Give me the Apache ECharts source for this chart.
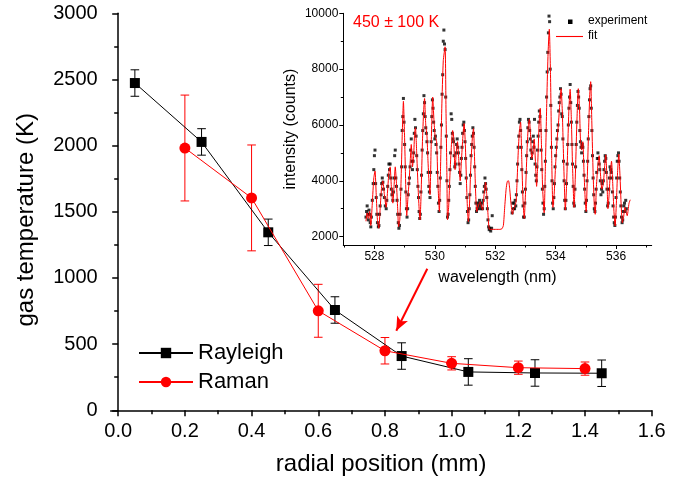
<!DOCTYPE html>
<html><head><meta charset="utf-8">
<script src="https://cdn.jsdelivr.net/npm/echarts@6/dist/echarts.min.js"></script>
<style>html,body{margin:0;padding:0;background:#fff}#c{width:681px;height:483px}</style>
</head><body><div id="c"></div>
<script>
// ---- main chart data ----
const rayleighX = [0.05, 0.25, 0.45, 0.65, 0.85, 1.05, 1.25, 1.45];
const rayleighY = [2473, 2028, 1345, 758, 410, 290, 282, 280];
const rayleighErr = [100, 100, 100, 100, 100, 100, 100, 100];
const ramanX = [0.2, 0.4, 0.6, 0.8, 1.0, 1.2, 1.4];
const ramanY = [1982, 1605, 752, 450, 355, 322, 315];
const ramanErr = [400, 400, 200, 100, 50, 50, 50];
const xTicks = [0, 0.2, 0.4, 0.6, 0.8, 1.0, 1.2, 1.4, 1.6];
const xMinorTicks = [0.1, 0.3, 0.5, 0.7, 0.9, 1.1, 1.3, 1.5];
const arrowFrom = [0.927, 1070];
const arrowTo = [0.834, 601];

// ---- inset data ----
const insetXTicks = [528, 530, 532, 534, 536];
const insetXMinor = [527, 529, 531, 533, 535, 537];
const insetYTicks = [2000, 4000, 6000, 8000, 10000];
const insetYMinor = [3000, 5000, 7000, 9000];
const insetLegend = ['experiment', 'fit'];
const fitPoints = [
[527.72,2550],[527.76,2850],[527.80,2650],[527.84,2900],[527.88,2400],[527.93,3200],[527.98,4100],[528.02,4350],[528.06,3500],[528.10,2600],
[528.145,2300],[528.19,3000],[528.24,3800],[528.28,4000],[528.33,3500],[528.39,3050],[528.44,3700],[528.48,4300],[528.52,4500],[528.56,3800],
[528.61,3200],[528.65,3800],[528.69,4500],[528.73,3900],[528.77,3000],[528.80,2360],[528.84,2600],[528.88,3900],[528.92,5600],[528.96,6850],
[529.00,5500],[529.04,3700],[529.07,2750],[529.11,3400],[529.15,4000],[529.19,4800],[529.22,5300],[529.26,4500],[529.30,4900],[529.33,5700],
[529.36,5900],[529.40,5000],[529.44,3900],[529.48,3000],[529.51,2600],[529.55,3700],[529.59,5400],[529.63,6500],[529.66,6950],[529.70,6000],
[529.74,5600],[529.77,4800],[529.81,3900],[529.84,3500],[529.88,5300],[529.93,7000],[529.97,6200],[530.01,5600],[530.06,5400],[530.10,4000],
[530.15,2900],[530.19,4500],[530.23,6600],[530.28,8300],[530.34,8800],[530.37,6500],[530.40,4200],[530.42,2600],[530.46,3100],[530.50,4200],
[530.55,5300],[530.59,5800],[530.62,5600],[530.67,4400],[530.71,5000],[530.75,5400],[530.79,4800],[530.84,4000],[530.88,4700],[530.93,5600],
[530.97,6050],[531.01,5300],[531.05,3900],[531.08,3000],[531.11,2540],[531.15,3200],[531.19,4500],[531.24,5500],[531.28,5870],[531.31,5000],
[531.35,3600],[531.39,2900],[531.44,3100],[531.50,3250],[531.54,3100],[531.58,2950],[531.63,3500],[531.68,3950],[531.72,3500],[531.76,2800],
[531.80,2270],[531.85,2260],[531.95,2260],[532.05,2260],[532.15,2260],[532.22,2280],[532.27,2400],[532.31,3000],[532.36,3700],[532.40,3980],
[532.44,4000],[532.48,3700],[532.52,3200],[532.57,2800],[532.61,3000],[532.65,3100],[532.69,3250],[532.72,3900],[532.76,5000],[532.80,5800],
[532.84,6100],[532.88,4700],[532.92,3300],[532.96,2650],[533.00,3500],[533.05,5000],[533.09,5900],[533.13,6200],[533.17,5600],[533.21,4800],
[533.25,5000],[533.29,5500],[533.33,4700],[533.37,3800],[533.41,4700],[533.45,6000],[533.49,6600],[533.53,5300],[533.57,3700],[533.62,2850],
[533.66,4500],[533.71,7000],[533.75,8600],[533.79,9430],[533.83,7800],[533.87,4800],[533.91,3050],[533.95,3500],[534.00,4600],[534.05,5500],
[534.09,6000],[534.14,6800],[534.18,7300],[534.22,6500],[534.25,5300],[534.29,3800],[534.32,2950],[534.36,3800],[534.40,5200],[534.44,6600],
[534.48,7280],[534.52,6200],[534.56,4500],[534.61,3050],[534.65,4100],[534.70,6000],[534.75,7300],[534.79,6600],[534.82,5500],[534.86,5100],
[534.90,5400],[534.94,4300],[534.98,3300],[535.01,2900],[535.05,4200],[535.09,5800],[535.13,7100],[535.16,7550],[535.20,6000],[535.24,4300],
[535.28,3100],[535.31,2800],[535.35,3800],[535.40,4600],[535.44,4900],[535.48,4300],[535.53,3700],[535.58,3900],[535.62,4500],[535.66,4930],
[535.70,4000],[535.73,3000],[535.77,3500],[535.81,4300],[535.85,4700],[535.89,3900],[535.93,2900],[535.97,2380],[536.01,3200],[536.05,4300],
[536.09,4950],[536.13,4200],[536.17,3100],[536.21,2500],[536.25,2700],[536.29,3050],[536.33,2900],[536.37,2750],[536.40,2950],[536.43,3200],[536.47,3320]
];
const expPoints = [
[527.72,2700],[527.74,2900],[527.76,3100],[527.78,2800],[527.80,2600],[527.82,2950],[527.84,2800],[527.86,2500],[527.88,2350],[527.90,2700],
[527.93,3300],[527.96,3900],[527.98,4400],[528.00,4900],[528.02,5100],[528.04,3900],[528.06,3400],[528.08,2800],[528.10,2500],[528.13,2350],
[528.15,2400],[528.17,2800],[528.19,3100],[528.22,3500],[528.24,3900],[528.26,4100],[528.28,3950],[528.30,3700],[528.33,3400],[528.36,3100],
[528.39,3000],[528.41,3300],[528.44,3800],[528.46,4200],[528.48,4600],[528.50,4400],[528.52,4600],[528.54,4100],[528.56,3700],[528.58,3500],
[528.61,3300],[528.63,3600],[528.65,4100],[528.67,4900],[528.69,5100],[528.71,4100],[528.73,3800],[528.75,3300],[528.77,2800],[528.79,2500],
[528.81,2300],[528.83,2400],[528.85,2800],[528.88,3700],[528.90,4500],[528.92,5800],[528.94,6300],[528.96,6950],[528.98,6100],[529.00,5300],
[529.02,4500],[529.04,3600],[529.06,3000],[529.08,2700],[529.10,3000],[529.12,3500],[529.14,3900],[529.16,4100],[529.18,4500],[529.20,5100],
[529.22,5500],[529.24,4700],[529.26,4400],[529.28,4700],[529.30,5000],[529.32,5700],[529.34,6200],[529.36,5900],[529.38,5600],[529.40,4900],
[529.42,4400],[529.44,3800],[529.46,3400],[529.48,2900],[529.50,2650],[529.52,2800],[529.54,3600],[529.56,4200],[529.58,5100],[529.60,5800],
[529.62,6400],[529.64,7050],[529.66,6800],[529.68,6300],[529.70,5900],[529.72,5700],[529.74,5400],[529.76,5000],[529.78,4300],[529.80,3800],
[529.82,3600],[529.84,3400],[529.86,4300],[529.88,5400],[529.90,6300],[529.92,6900],[529.94,6600],[529.96,6100],[529.98,5800],[530.00,5500],
[530.02,5600],[530.04,5300],[530.06,5000],[530.08,4300],[530.10,3800],[530.12,3200],[530.14,2900],[530.16,3300],[530.18,4100],[530.20,5200],
[530.22,6000],[530.24,7100],[530.26,7800],[530.28,9000],[530.30,9400],[530.32,8900],[530.34,8700],[530.36,7000],[530.38,5600],[530.40,4000],
[530.42,2700],[530.44,2800],[530.46,3300],[530.48,3800],[530.50,4400],[530.52,5000],[530.54,6400],[530.56,6200],[530.58,5700],[530.60,5500],
[530.62,5400],[530.64,4900],[530.66,4500],[530.68,4600],[530.70,5000],[530.72,5300],[530.74,5500],[530.76,5200],[530.78,5000],[530.80,4600],
[530.82,4300],[530.84,3900],[530.86,4200],[530.88,4800],[530.90,5200],[530.92,5700],[530.94,6000],[530.96,6100],[530.98,5800],[531.00,5400],
[531.02,4800],[531.04,4100],[531.06,3400],[531.08,2900],[531.10,2500],[531.12,2600],[531.14,3000],[531.16,3500],[531.18,4200],[531.20,4900],
[531.22,5300],[531.24,5600],[531.26,5900],[531.28,5700],[531.30,5200],[531.32,4500],[531.34,3800],[531.36,3200],[531.38,2900],[531.40,3000],
[531.42,3200],[531.44,3100],[531.46,3000],[531.48,3300],[531.50,3200],[531.52,3100],[531.54,3000],[531.56,3200],[531.58,3000],[531.60,3300],
[531.62,3600],[531.64,3800],[531.66,4100],[531.68,3900],[531.70,3700],[531.72,3400],[531.74,3000],[531.76,2600],[531.78,2350],[531.80,2250],
[531.82,2300],[531.85,2200],[531.88,2300],[531.90,2750],
[532.56,2850],[532.58,3200],[532.60,3000],[532.62,3200],[532.64,3000],[532.66,3300],[532.68,3100],[532.70,3500],[532.72,4000],[532.74,4600],
[532.76,5200],[532.78,5600],[532.80,6100],[532.82,6200],[532.84,5800],[532.86,5200],[532.88,4400],[532.90,3600],[532.92,3100],[532.94,2700],
[532.96,2700],[532.98,3200],[533.00,3700],[533.02,4300],[533.04,4900],[533.06,5400],[533.08,5900],[533.10,6200],[533.12,6100],[533.14,5800],
[533.16,5500],[533.18,5100],[533.20,4800],[533.22,5000],[533.24,5400],[533.26,5600],[533.28,5200],[533.30,6200],[533.32,4600],[533.34,4200],
[533.36,4000],[533.38,4500],[533.40,5100],[533.42,5600],[533.44,6100],[533.46,6500],[533.48,6300],[533.50,5800],[533.52,5100],[533.54,4400],
[533.56,3700],[533.58,3200],[533.60,2800],[533.62,3000],[533.64,3800],[533.66,4700],[533.68,5800],[533.70,7000],[533.72,7900],[533.74,8600],
[533.76,9300],[533.78,9900],[533.80,9700],[533.82,8000],[533.84,6700],[533.86,5200],[533.88,4000],[533.90,3200],[533.92,3000],[533.94,3400],
[533.96,3900],[533.98,4500],[534.00,4900],[534.02,5200],[534.04,5500],[534.06,5800],[534.08,6000],[534.10,6500],[534.12,6800],[534.14,7000],
[534.16,7300],[534.18,7100],[534.20,6400],[534.22,6300],[534.24,5500],[534.26,4700],[534.28,4000],[534.30,3300],[534.32,3000],[534.34,3300],
[534.36,3900],[534.38,4600],[534.40,5300],[534.42,6000],[534.44,6600],[534.46,7000],[534.48,7450],[534.50,6800],[534.52,6100],[534.54,5300],
[534.56,4600],[534.58,3800],[534.60,3200],[534.62,3100],[534.64,3700],[534.66,4500],[534.68,5300],[534.70,6100],[534.72,6700],[534.74,7200],
[534.76,7000],[534.78,6600],[534.80,5800],[534.82,5400],[534.84,5200],[534.86,5000],[534.88,5300],[534.90,5200],[534.92,4700],[534.94,4200],
[534.96,3700],[534.98,3200],[535.00,2900],[535.02,3300],[535.04,4000],[535.06,4700],[535.08,5500],[535.10,6300],[535.12,6900],[535.14,7300],
[535.16,7400],[535.18,6600],[535.20,5800],[535.22,4900],[535.24,4100],[535.26,3500],[535.28,3000],[535.30,2900],[535.32,3200],[535.34,3700],
[535.36,4300],[535.38,4800],[535.40,5000],[535.42,4800],[535.44,4600],[535.46,4400],[535.48,4000],[535.50,3500],[535.52,3700],[535.54,3900],
[535.56,3600],[535.58,4000],[535.60,4400],[535.62,4700],[535.64,4900],[535.66,4800],[535.68,4300],[535.70,3700],[535.72,3100],[535.74,3200],
[535.76,3700],[535.78,4100],[535.80,4500],[535.82,4400],[535.84,4300],[535.86,4100],[535.88,3600],[535.90,3100],[535.92,2700],[535.94,2500],
[535.96,2400],[535.98,2700],[536.00,3400],[536.02,4100],[536.04,4700],[536.06,4900],[536.08,5000],[536.10,4700],[536.12,4100],[536.14,3600],
[536.16,3100],[536.18,2700],[536.20,2500],[536.22,2600],[536.24,2900],[536.26,3100],[536.28,3200],[536.30,2900],[536.32,3300],[536.34,3000]
];

const FONT = 'Liberation Sans, Arial, sans-serif';
const chart = echarts.init(document.getElementById('c'), null, {renderer: 'canvas'});

function errData(xs, ys, es) { return xs.map((x, i) => [x, ys[i], es[i]]); }
function errRender(color, half) {
  return function (params, api) {
    const x = api.value(0), y = api.value(1), e = api.value(2);
    const top = api.coord([x, y + e]);
    const bot = api.coord([x, y - e]);
    const st = {stroke: color, lineWidth: 1};
    return {type: 'group', children: [
      {type: 'line', shape: {x1: top[0], y1: top[1], x2: bot[0], y2: bot[1]}, style: st},
      {type: 'line', shape: {x1: top[0] - half, y1: top[1], x2: top[0] + half, y2: top[1]}, style: st},
      {type: 'line', shape: {x1: bot[0] - half, y1: bot[1], x2: bot[0] + half, y2: bot[1]}, style: st}
    ]};
  };
}

const axisLineBlack = {show: true, lineStyle: {color: '#000', width: 1.5}};
const axisLineThin = {show: true, lineStyle: {color: '#000', width: 1}};
const plain = v => String(v);

const option = {
  animation: false,
  backgroundColor: '#fff',
  textStyle: {fontFamily: FONT},
  title: {
    text: '450 ± 100 K', left: 348, top: 10,
    textStyle: {color: '#ff0000', fontSize: 16, fontWeight: 'normal', fontFamily: FONT}
  },
  legend: {
    data: ['Rayleigh', 'Raman'], orient: 'vertical', left: 133, top: 335,
    itemWidth: 54, itemHeight: 13, itemGap: 3,
    textStyle: {fontSize: 22, color: '#000', fontFamily: FONT, lineHeight: 26}
  },
  graphic: [
    {type: 'rect', left: 568, top: 19.5, shape: {width: 4.5, height: 4.5}, style: {fill: '#000'}, silent: true},
    {type: 'text', left: 588, top: 14.5, style: {text: insetLegend[0], fontSize: 12, fontFamily: FONT, fill: '#000'}, silent: true},
    {type: 'line', shape: {x1: 556, y1: 36.5, x2: 583, y2: 36.5}, style: {stroke: '#ff0000', lineWidth: 1.1}, silent: true},
    {type: 'text', left: 588, top: 29.5, style: {text: insetLegend[1], fontSize: 12, fontFamily: FONT, fill: '#000'}, silent: true}
  ],
  grid: [
    {left: 110.7, right: 29.3, top: 13.3, bottom: 72.7, containLabel: false},
    {left: 343.3, right: 29.3, top: 13.3, bottom: 238, containLabel: false}
  ],
  xAxis: [
    {
      gridIndex: 0, type: 'value', min: -0.0225, max: 1.6, position: 'bottom',
      name: 'radial position (mm)', nameLocation: 'middle', nameGap: 42,
      nameTextStyle: {fontSize: 24, color: '#000', fontFamily: FONT},
      axisLine: axisLineBlack,
      axisTick: {show: true, customValues: xTicks, length: 6, lineStyle: {color: '#000', width: 1.5}},
      axisLabel: {customValues: xTicks, formatter: v => v.toFixed(1), fontSize: 20, color: '#000', margin: 11, fontFamily: FONT},
      splitLine: {show: false}
    },
    {
      gridIndex: 0, type: 'value', min: -0.0225, max: 1.6, position: 'bottom',
      axisLine: {show: false},
      axisTick: {show: true, customValues: xMinorTicks, length: 4, lineStyle: {color: '#000', width: 1.5}},
      axisLabel: {show: false}, splitLine: {show: false}
    },
    {
      gridIndex: 1, type: 'value', min: 526.97, max: 537.18, position: 'bottom',
      name: 'wavelength (nm)', nameLocation: 'middle', nameGap: 25,
      nameTextStyle: {fontSize: 16, color: '#000', fontFamily: FONT},
      axisLine: axisLineThin,
      axisTick: {show: true, customValues: insetXTicks, length: 4, lineStyle: {color: '#000'}},
      axisLabel: {customValues: insetXTicks, formatter: plain, fontSize: 12, color: '#000', margin: 6, fontFamily: FONT},
      splitLine: {show: false}
    },
    {
      gridIndex: 1, type: 'value', min: 526.97, max: 537.18, position: 'bottom',
      axisLine: {show: false},
      axisTick: {show: true, customValues: insetXMinor, length: 2.5, lineStyle: {color: '#000'}},
      axisLabel: {show: false}, splitLine: {show: false}
    }
  ],
  yAxis: [
    {
      gridIndex: 0, type: 'value', min: 0, max: 3000, interval: 500,
      name: 'gas temperature (K)', nameLocation: 'middle', nameGap: 72,
      nameTextStyle: {fontSize: 24, color: '#000', fontFamily: FONT, padding: [0, 16, 0, 0]},
      axisLine: axisLineBlack,
      axisTick: {show: true, length: 6, lineStyle: {color: '#000', width: 1.5}},
      minorTick: {show: true, splitNumber: 2, length: 4, lineStyle: {color: '#000', width: 1.5}},
      axisLabel: {formatter: plain, fontSize: 20, color: '#000', margin: 13, fontFamily: FONT},
      splitLine: {show: false}, minorSplitLine: {show: false}
    },
    {
      gridIndex: 1, type: 'value', min: 1700, max: 10000, position: 'left',
      name: 'intensity (counts)', nameLocation: 'middle', nameGap: 45,
      nameTextStyle: {fontSize: 16, color: '#000', fontFamily: FONT},
      axisLine: axisLineThin,
      axisTick: {show: true, customValues: insetYTicks, length: 4, lineStyle: {color: '#000'}},
      axisLabel: {customValues: insetYTicks, formatter: plain, fontSize: 12, color: '#000', margin: 5, fontFamily: FONT},
      splitLine: {show: false}
    },
    {
      gridIndex: 1, type: 'value', min: 1700, max: 10000, position: 'left',
      axisLine: {show: false},
      axisTick: {show: true, customValues: insetYMinor, length: 2.5, lineStyle: {color: '#000'}},
      axisLabel: {show: false}, splitLine: {show: false}
    }
  ],
  series: [
    {
      name: 'RayleighErr', type: 'custom', xAxisIndex: 0, yAxisIndex: 0, z: 2,
      renderItem: errRender('#000', 4.3), data: errData(rayleighX, rayleighY, rayleighErr),
      encode: {x: 0, y: 1}, silent: true
    },
    {
      name: 'RamanErr', type: 'custom', xAxisIndex: 0, yAxisIndex: 0, z: 2,
      renderItem: errRender('#ff0000', 4.3), data: errData(ramanX, ramanY, ramanErr),
      encode: {x: 0, y: 1}, silent: true
    },
    {
      name: 'Rayleigh', type: 'line', xAxisIndex: 0, yAxisIndex: 0, z: 3,
      data: rayleighX.map((x, i) => [x, rayleighY[i]]),
      symbol: 'rect', symbolSize: 10, showAllSymbol: true,
      lineStyle: {color: '#000', width: 1}, itemStyle: {color: '#000'}
    },
    {
      name: 'Raman', type: 'line', xAxisIndex: 0, yAxisIndex: 0, z: 4,
      data: ramanX.map((x, i) => [x, ramanY[i]]),
      symbol: 'circle', symbolSize: 11, showAllSymbol: true,
      lineStyle: {color: '#ff0000', width: 1}, itemStyle: {color: '#ff0000'},
      markLine: {
        silent: true, animation: false,
        symbol: ['none', 'arrow'], symbolSize: [9, 14],
        label: {show: false},
        lineStyle: {color: '#ff0000', width: 2, type: 'solid'},
        data: [[{coord: arrowFrom}, {coord: arrowTo}]]
      }
    },
    {
      name: 'experiment', type: 'scatter', xAxisIndex: 2, yAxisIndex: 1, z: 2,
      data: expPoints, symbol: 'rect', symbolSize: 3,
      itemStyle: {color: '#000'}
    },
    {
      name: 'fit', type: 'line', xAxisIndex: 2, yAxisIndex: 1, z: 3,
      data: fitPoints, symbol: 'none', smooth: 0.2,
      lineStyle: {color: '#ff0000', width: 1}, itemStyle: {color: '#ff0000'}
    }
  ]
};
chart.setOption(option);
</script>
</body></html>
